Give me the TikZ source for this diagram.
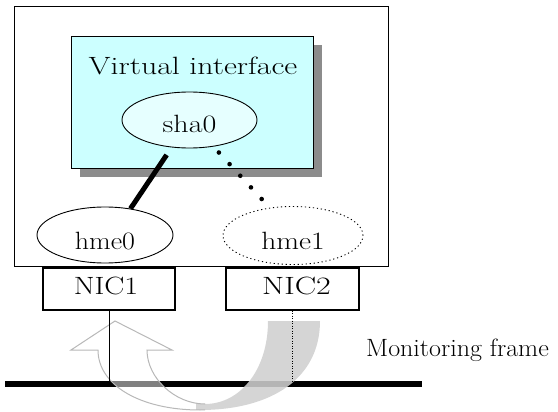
\documentclass[tikz,border=0pt]{standalone}
\usetikzlibrary{calc,shapes.geometric,shadows}
\definecolor{vcyan}{HTML}{CCFFFF}
\definecolor{scyan}{HTML}{E6FFFF}
\definecolor{arrline}{HTML}{B8B8B8}
\definecolor{arrfill}{HTML}{C8C8C8}
\begin{document}
\begin{tikzpicture}[x=1pt,y=-1pt,
  lbl/.style={font=\fontsize{25}{28}\selectfont, inner sep=0pt},
  boxline/.style={draw=black, line width=1.1pt},
  ifellipse/.style={ellipse, draw=black, line width=0.9pt, inner sep=0pt,
    font=\fontsize{25}{28}\selectfont, text depth=0pt},
  nicbox/.style={boxline, fill=white, minimum width=132pt, minimum height=42pt,
    inner sep=0pt, font=\fontsize{25}{28}\selectfont, text height=11pt, text depth=0pt},
  thickconn/.style={line width=5pt},
  dotconn/.style={line width=4.6pt, line cap=round, dash pattern=on 0pt off 15.8pt}
]
\useasboundingbox (0,0) rectangle (558,412);

% host frame
\node[boxline, minimum width=374pt, minimum height=260pt, inner sep=0pt, anchor=north west] (host) at (14,6) {};

% virtual interface box with shadow
\node[boxline, fill=vcyan, minimum width=242pt, minimum height=132pt, inner sep=0pt,
  anchor=north west, drop shadow={shadow xshift=8.5pt, shadow yshift=-8.5pt, fill=black!45, opacity=1}] (vif) at (71,36) {};
\node[lbl, anchor=base] (vtitle) at (193,75) {\scalebox{1.27}[1]{Virtual interface}};

% interfaces
\node[ifellipse, fill=scyan, minimum width=135pt, minimum height=56pt, text height=26pt] (sha0) at (189.5,120) {\scalebox{1.2}[1]{sha0}};
\node[ifellipse, fill=white, minimum width=136pt, minimum height=56pt, text height=28pt] (hme0) at (105,235) {\scalebox{1.12}[1]{hme0}};
\node[ifellipse, fill=white, dash pattern=on 1.2pt off 2.8pt, minimum width=140pt, minimum height=58pt, text height=29pt] (hme1) at (293,235.5) {\scalebox{1.18}[1]{hme1}};

% connectors
\draw[thickconn, shorten <=9pt] (sha0.237) -- (hme0.46);
\draw[dotconn, shorten <=8pt, shorten >=2pt] (sha0.312) -- (hme1.130);

% NICs
\node[nicbox] (nic1) at (109,289) {\hspace*{-6pt}\scalebox{1.2}[1]{NIC1}};
\node[nicbox, minimum width=133pt] (nic2) at (292.5,289) {\hspace*{8pt}\scalebox{1.28}[1]{NIC2}};

% bus
\coordinate (busL) at (5,384);
\coordinate (busR) at (422,384);
\draw[line width=5.5pt] (busL) -- (busR);
\coordinate (tap1) at (nic1.south |- busL);
\coordinate (tap2) at (nic2.south |- busL);

% monitoring frame arrow
\def\arrowpath{(320,321) .. controls (320,378) and (272,410) .. (200,410)
  .. controls (140,410) and (98,385) .. (98,350) -- (71,350) -- (115,321) -- (172,350) -- (147,350)
  .. controls (147,378) and (175,404) .. (205,404) .. controls (240,404) and (268,370) .. (268,321) -- cycle}
\fill[white, fill opacity=0.5] \arrowpath;
\begin{scope}
  \clip (196,300) rectangle (340,412);
  \fill[arrfill, fill opacity=0.75] \arrowpath;
\end{scope}
\begin{scope}
  \clip (0,300) rectangle (205,412);
  \draw[arrline, line width=1pt] \arrowpath;
\end{scope}

% taps
\draw[line width=1pt] (nic1.south) -- (tap1);
\draw[line width=1pt, dash pattern=on 1pt off 1.5pt] (nic2.south) -- ($(tap2)+(0,4)$);

\node[lbl, anchor=base] (mon) at (457.5,356) {\scalebox{1.04}[1]{Monitoring frame}};
\end{tikzpicture}
\end{document}
